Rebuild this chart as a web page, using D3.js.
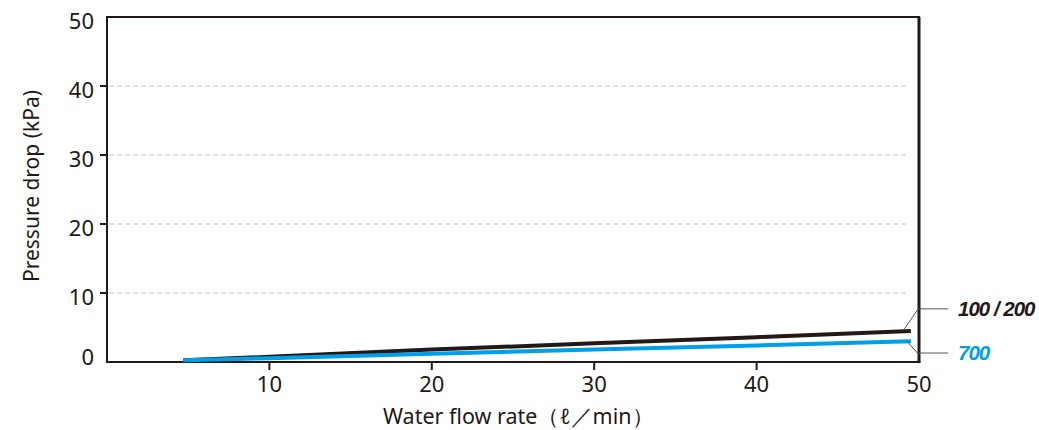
<!DOCTYPE html>
<html>
<head>
<meta charset="utf-8">
<script src="https://cdn.jsdelivr.net/npm/d3@7"></script>
<style>
  body { margin: 0; background: #fff; }
  svg text { fill: #231815; }
  .lbl { font-family: "Noto Sans", sans-serif; }
  .key { font-family: "Liberation Sans", Arial, sans-serif; font-weight: bold; font-style: italic; }
</style>
</head>
<body>
<svg id="chart" width="1039" height="430"></svg>
<script>
// flow rate (l/min) vs pressure drop (kPa)
var flow = [4.7, 10, 20, 30, 40, 49.5]
var drop100 = [0.25, 0.75, 1.8, 2.7, 3.6, 4.5]
var drop700 = [0.25, 0.55, 1.2, 1.8, 2.4, 3.0]
var xTicks = [10, 20, 30, 40, 50]
var yTicks = [0, 10, 20, 30, 40, 50]
var seriesNames = ["100 / 200", "700"]
var seriesColors = ["#231815", "#00a0e9"]

var svg = d3.select("#chart")
var x = d3.scaleLinear().domain([0, 50]).range([107, 919])
var y = d3.scaleLinear().domain([0, 50]).range([362, 17])
var ink = "#231815"

// grid
svg.selectAll(".grid").data(yTicks.filter(function(d){ return d > 0 && d < 50 }))
  .enter().append("line")
  .attr("x1", x(0) + 2).attr("x2", x(49.4))
  .attr("y1", function(d){ return y(d) }).attr("y2", function(d){ return y(d) })
  .attr("stroke", "#c4c4c4").attr("stroke-width", 1).attr("stroke-dasharray", "5,3")

// tick marks
svg.selectAll(".yt").data(yTicks.filter(function(d){ return d > 0 && d < 50 }))
  .enter().append("line")
  .attr("x1", x(0) - 7).attr("x2", x(0))
  .attr("y1", function(d){ return y(d) }).attr("y2", function(d){ return y(d) })
  .attr("stroke", ink).attr("stroke-width", 2)
svg.selectAll(".xt").data(xTicks.filter(function(d){ return d < 50 }))
  .enter().append("line")
  .attr("x1", function(d){ return x(d) }).attr("x2", function(d){ return x(d) })
  .attr("y1", y(0)).attr("y2", y(0) + 8)
  .attr("stroke", ink).attr("stroke-width", 2)

// frame
svg.append("line").attr("x1", x(0)).attr("x2", x(50) + 1).attr("y1", y(50)).attr("y2", y(50))
  .attr("stroke", ink).attr("stroke-width", 2)
svg.append("line").attr("x1", x(50)).attr("x2", x(50)).attr("y1", y(50)).attr("y2", y(0))
  .attr("stroke", ink).attr("stroke-width", 3)
svg.append("line").attr("x1", x(0)).attr("x2", x(0)).attr("y1", y(50) - 1).attr("y2", y(0))
  .attr("stroke", ink).attr("stroke-width", 2)
svg.append("line").attr("x1", x(0) - 1).attr("x2", x(50) + 1.5).attr("y1", y(0)).attr("y2", y(0))
  .attr("stroke", ink).attr("stroke-width", 2)

// tick labels (the 0 sits a bit higher, clear of the axis)
svg.selectAll(".yl").data(yTicks).enter().append("text").attr("class", "lbl")
  .attr("x", 94).attr("y", function(d){ return d == 0 ? y(d) + 3 : y(d) + 12 })
  .attr("text-anchor", "end")
  .attr("font-size", 22).text(function(d){ return d })
svg.selectAll(".xl").data(xTicks).enter().append("text").attr("class", "lbl")
  .attr("x", function(d){ return x(d) }).attr("y", 392)
  .attr("text-anchor", "middle")
  .attr("font-size", 22).text(function(d){ return d })

// axis titles
svg.append("text").attr("class", "lbl").attr("x", 383).attr("y", 424)
  .attr("font-size", 21.5).text("Water flow rate（ℓ／min）")
svg.append("text").attr("class", "lbl").attr("transform", "translate(39,186) rotate(-90)")
  .attr("text-anchor", "middle").attr("font-size", 21).text("Pressure drop (kPa)")

// curves
var line = d3.line().x(function(d){ return x(d[0]) }).y(function(d){ return y(d[1]) })
var series = [drop100, drop700]
series.forEach(function(vals, i) {
  svg.append("path")
    .datum(flow.map(function(f, j){ return [f, vals[j]] }))
    .attr("d", line).attr("fill", "none")
    .attr("stroke", seriesColors[i]).attr("stroke-width", 4)
})

// leaders and labels
var lead = d3.line()
svg.append("path").attr("d", lead([[x(49.1), y(4.8)], [x(49.95), y(7.7)], [948, y(7.7)]]))
  .attr("fill", "none").attr("stroke", "#555").attr("stroke-width", 1)
svg.append("path").attr("d", lead([[x(49.3), y(2.9)], [x(49.9), y(1.3)], [948, y(1.3)]]))
  .attr("fill", "none").attr("stroke", "#555").attr("stroke-width", 1)
svg.append("text").attr("class", "key").attr("x", 958).attr("y", y(7.7)).attr("dy", "0.36em")
  .attr("font-size", 20.5).attr("letter-spacing", -1)
  .style("fill", seriesColors[0]).text(seriesNames[0])
svg.append("text").attr("class", "key").attr("x", 958).attr("y", y(1.3)).attr("dy", "0.36em")
  .attr("font-size", 20.5).attr("letter-spacing", -1)
  .style("fill", seriesColors[1]).text(seriesNames[1])
</script>
</body>
</html>
